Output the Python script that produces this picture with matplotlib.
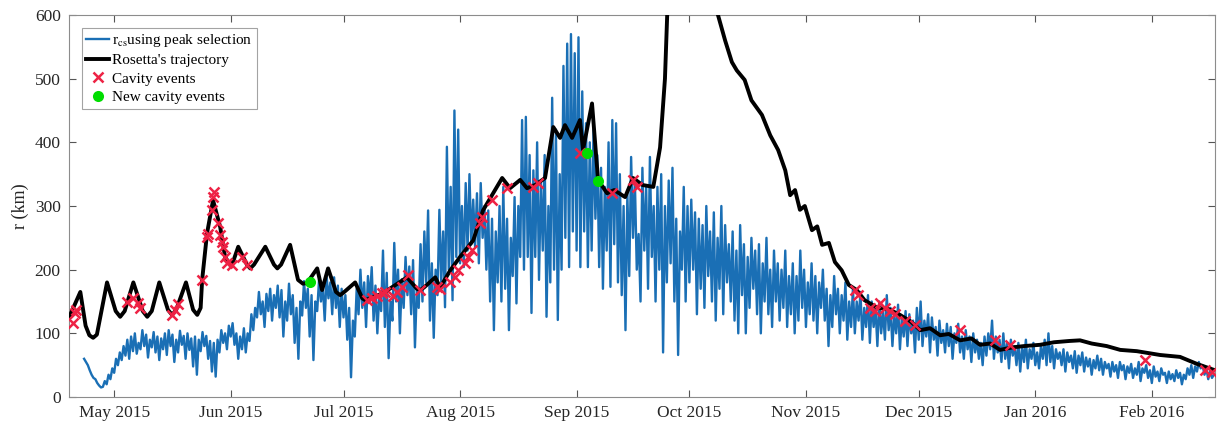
import numpy as np
import matplotlib
matplotlib.use("Agg")
import matplotlib.pyplot as plt
import datetime as dt

plt.rcParams['font.family'] = ['Liberation Serif', 'DejaVu Serif']
plt.rcParams['mathtext.fontset'] = 'stix'

BASE = dt.datetime(2015, 5, 1)

# Rosetta's trajectory: days since 2015-05-01, km
traj_day = [-12.0, -10.5, -9.0, -7.6, -6.6, -5.6, -4.6, -1.9, 0.4, 1.6, 2.8, 5.1, 7.6, 8.8, 10.0,
            12.0, 14.3, 15.4, 16.5, 19.1, 21.0, 22.1, 23.0, 23.4, 24.7, 26.3, 28.2, 29.5, 30.9,
            31.6, 33.0, 35.3, 36.2, 37.2, 40.2, 42.5, 43.4, 44.4, 46.8, 48.9, 50.2, 51.3, 54.0,
            55.3, 56.9, 59.0, 60.1, 61.2, 64.1, 66.0, 66.8, 68.0, 71.5, 77.9, 80.5, 81.4, 82.4,
            85.4, 86.7, 89.4, 92.0, 95.5, 98.1, 100.8, 103.2, 105.3, 108.0, 109.8, 112.0, 114.6,
            116.8, 118.6, 119.9, 121.8, 123.9, 124.7, 127.1, 128.7, 131.1, 133.0, 135.9, 138.0,
            140.5, 143.4, 145.2, 146.5, 147.1, 150.0, 155.0, 159.0, 160.6, 162.5, 164.3, 165.6,
            167.7, 169.5, 172.3, 174.5, 176.6, 178.5, 179.8, 181.1, 182.4, 183.7, 185.6, 187.0,
            188.3, 190.1, 191.7, 193.5, 195.4, 197.5, 199.6, 203.0, 206.0, 209.0, 212.0, 214.4,
            217.0, 219.7, 222.0, 225.0, 228.0, 230.3, 233.0, 235.6, 239.0, 242.0, 246.3, 250.0,
            254.0, 256.9, 260.0, 264.0, 267.6, 272.0, 278.2, 283.5, 288.0, 292.8]
traj_km = [125, 145, 165, 112, 97, 93, 98, 180, 135, 126, 135, 180, 135, 126, 135,
           180, 137, 129, 137, 180, 137, 129, 140, 184, 257, 309, 267, 220, 207,
           212, 236, 208, 202, 208, 236, 208, 202, 208, 239, 184, 178, 179, 202,
           168, 202, 165, 160, 165, 180, 155, 152, 155, 163, 188, 170, 168, 172,
           188, 172, 199, 220, 246, 293, 320, 344, 328, 341, 328, 333, 344,
           424, 407, 427, 407, 435, 388, 461, 341, 320, 325, 314, 344,
           333, 330, 392, 500, 600, 1100, 1500, 1000, 600, 560, 526, 513,
           498, 466, 443, 411, 388, 356, 317, 325, 294, 300, 262, 268,
           239, 242, 212, 199, 176, 168, 152, 140, 138, 129, 118, 105,
           108, 97, 99, 89, 92, 82, 84, 74, 78, 80, 82, 86,
           88, 89, 84, 80, 74, 72, 66, 63, 52, 42]

# r_cs using peak selection (one value every half day, from 2015-04-23)
rcs_start = -8.0
rcs_step = 0.5
rcs_km = [60, 55, 50, 42, 35, 30, 28, 22, 18, 15,
          16, 25, 20, 35, 28, 45, 38, 60, 50, 70,
          58, 80, 65, 90, 60, 95, 72, 100, 68, 85,
          75, 105, 80, 98, 62, 90, 78, 102, 70, 95,
          58, 92, 75, 100, 66, 105, 80, 98, 55, 90,
          70, 104, 82, 96, 60, 100, 74, 92, 48, 95,
          35, 90, 72, 102, 80, 96, 60, 88, 40, 85,
          32, 90, 70, 105, 85, 100, 75, 112, 95, 116,
          82, 100, 60, 95, 75, 108, 70, 100, 88, 130,
          105, 140, 125, 165, 130, 150, 110, 162, 135, 170,
          120, 160, 140, 175, 125, 168, 95, 150, 120, 178,
          130, 160, 85, 140, 60, 150, 128, 182, 140, 170,
          95, 160, 58, 150, 135, 185, 150, 175, 120, 190,
          155, 180, 130, 188, 140, 175, 110, 170, 125, 160,
          90, 140, 31, 120, 95, 170, 130, 200, 140, 180,
          110, 190, 150, 204, 120, 175, 100, 160, 135, 230,
          110, 195, 61, 150, 120, 242, 150, 200, 100, 185,
          140, 220, 160, 205, 130, 215, 78, 170, 140, 240,
          150, 260, 180, 293, 120, 210, 93, 200, 160, 294,
          180, 260, 141, 393, 200, 330, 152, 450, 220, 420,
          210, 300, 204, 336, 230, 350, 240, 310, 236, 320,
          210, 336, 250, 300, 200, 293, 150, 280, 105, 260,
          180, 300, 150, 330, 170, 280, 105, 250, 190, 314,
          147, 300, 220, 435, 200, 440, 220, 380, 132, 356,
          220, 400, 184, 340, 230, 380, 126, 300, 180, 470,
          200, 420, 121, 350, 200, 520, 250, 555, 204, 570,
          260, 540, 230, 565, 204, 480, 260, 430, 204, 400,
          230, 420, 280, 380, 204, 360, 170, 330, 230, 400,
          173, 435, 240, 430, 180, 350, 160, 300, 105, 320,
          190, 377, 250, 340, 200, 256, 150, 360, 230, 330,
          170, 377, 220, 300, 150, 330, 200, 350, 70, 300,
          180, 340, 210, 360, 150, 280, 66, 260, 200, 330,
          150, 300, 180, 310, 200, 290, 130, 280, 170, 270,
          140, 300, 190, 260, 150, 290, 120, 250, 170, 300,
          130, 270, 180, 240, 150, 260, 120, 230, 100, 270,
          160, 240, 100, 220, 140, 250, 170, 230, 130, 240,
          100, 210, 150, 250, 130, 200, 110, 230, 150, 210,
          120, 200, 140, 230, 110, 190, 130, 210, 100, 190,
          120, 230, 140, 200, 110, 180, 130, 210, 120, 190,
          100, 180, 140, 200, 120, 170, 80, 160, 110, 190,
          130, 170, 100, 160, 120, 180, 90, 150, 110, 170,
          100, 150, 120, 165, 90, 140, 110, 160, 85, 150,
          110, 140, 80, 150, 100, 135, 90, 160, 105, 140,
          80, 130, 100, 145, 75, 125, 95, 135, 80, 130,
          100, 120, 70, 140, 90, 150, 80, 120, 95, 130,
          70, 125, 90, 110, 65, 120, 85, 105, 70, 115,
          80, 110, 60, 100, 85, 115, 70, 95, 60, 105,
          75, 95, 55, 100, 70, 90, 60, 85, 50, 95,
          65, 100, 75, 120, 60, 95, 70, 90, 55, 100,
          60, 85, 45, 90, 65, 80, 50, 85, 40, 80,
          55, 90, 45, 75, 60, 85, 50, 70, 45, 80,
          60, 90, 50, 100, 55, 80, 45, 75, 60, 70,
          50, 75, 40, 70, 55, 65, 45, 72, 38, 65,
          50, 70, 40, 62, 48, 60, 35, 58, 45, 65,
          42, 60, 35, 55, 45, 52, 32, 55, 40, 50,
          30, 55, 42, 50, 28, 48, 38, 52, 30, 45,
          35, 55, 25, 45, 38, 50, 30, 42, 22, 48,
          32, 40, 25, 45, 35, 38, 22, 40, 28, 36,
          25, 42, 30, 38, 20, 35, 28, 45, 35, 50,
          30, 48, 40, 55, 45, 50, 35, 45, 28, 40,
          30, 35]

# Cavity events (days since 2015-05-01, km)
cav_day = [-10.9, -10.4, -10.1, 3.5, 5.1, 6.4, 6.9, 15.4, 16.2, 17.0, 23.4,
           24.7, 25.0, 26.1, 26.3, 26.5, 27.7, 28.2, 28.7, 29.0, 29.5, 30.1, 31.4, 34.0, 35.4,
           67.3, 68.6, 69.9, 71.3, 72.1, 74.2, 75.3, 76.6, 78.2, 81.4, 85.9, 86.7, 89.4, 90.7,
           91.5, 93.4, 94.1, 95.2, 97.3, 97.9, 100.5, 104.5, 111.4, 112.8, 123.9, 132.4, 138.0,
           139.1, 197.1, 197.9, 201.1, 202.4, 203.7, 205.1, 206.4, 207.7, 210.4, 213.0, 225.0,
           234.3, 238.3, 274.2, 290.2, 292.0]
cav_km = [116, 132, 137, 149, 155, 148, 140, 129, 136, 146, 184,
          251, 256, 293, 314, 322, 273, 254, 243, 236, 220, 210, 207, 220, 207,
          152, 155, 158, 163, 165, 158, 165, 173, 191, 168, 173, 170, 180, 188,
          199, 210, 220, 231, 273, 283, 309, 328, 330, 336, 383, 320, 341,
          330, 168, 160, 140, 135, 148, 140, 135, 130, 120, 113, 105,
          89, 82, 58, 42, 40]

# New cavity events
new_day = [52.1, 125.8, 128.7]
new_km = [180, 383, 339]

month_ticks = ['2015-05-01', '2015-06-01', '2015-07-01', '2015-08-01', '2015-09-01',
               '2015-10-01', '2015-11-01', '2015-12-01', '2016-01-01', '2016-02-01']


def to_dates(days):
    return [BASE + dt.timedelta(days=float(d)) for d in days]


fig = plt.figure(figsize=(12.2, 4.28), dpi=100)
ax = fig.add_axes([0.0566, 0.0724, 0.9393, 0.8926])

rcs_days = [rcs_start + rcs_step * i for i in range(len(rcs_km))]
ax.plot(to_dates(rcs_days), rcs_km, color='#1a6fb5', lw=1.7,
        label='r$_{\\rm cs}$using peak selection', zorder=2)
ax.plot(to_dates(traj_day), traj_km, color='black', lw=2.8,
        label="Rosetta's trajectory", zorder=3)
ax.plot(to_dates(cav_day), cav_km, 'x', color='#ee2244', ms=7, mew=1.8,
        label='Cavity events', zorder=4)
ax.plot(to_dates(new_day), new_km, 'o', color='#00dd00', ms=8, mew=0,
        label='New cavity events', zorder=5)

ax.set_ylim(0, 600)
ax.set_xlim(BASE + dt.timedelta(days=-12.0), BASE + dt.timedelta(days=292.8))
ax.set_yticks([0, 100, 200, 300, 400, 500, 600])
ticks = [dt.datetime.strptime(t, '%Y-%m-%d') for t in month_ticks]
ax.set_xticks(ticks)
ax.set_xticklabels([t.strftime('%b %Y') for t in ticks])
ax.set_ylabel('r (km)', fontsize=13, color='#262626')

for s in ax.spines.values():
    s.set_color('#8c8c8c')
    s.set_linewidth(0.8)
ax.tick_params(direction='in', length=5, width=0.8, color='#555555',
               labelsize=12.5, labelcolor='#262626', top=True, right=True, pad=6)

leg = ax.legend(loc='upper left', bbox_to_anchor=(0.011, 0.967), fontsize=11,
                frameon=True, fancybox=False, edgecolor='#8c8c8c', borderpad=0.3,
                handlelength=1.5, handletextpad=0.2, labelspacing=0.3, borderaxespad=0)
leg.get_frame().set_linewidth(0.8)

fig.savefig('out.png', dpi=100)
